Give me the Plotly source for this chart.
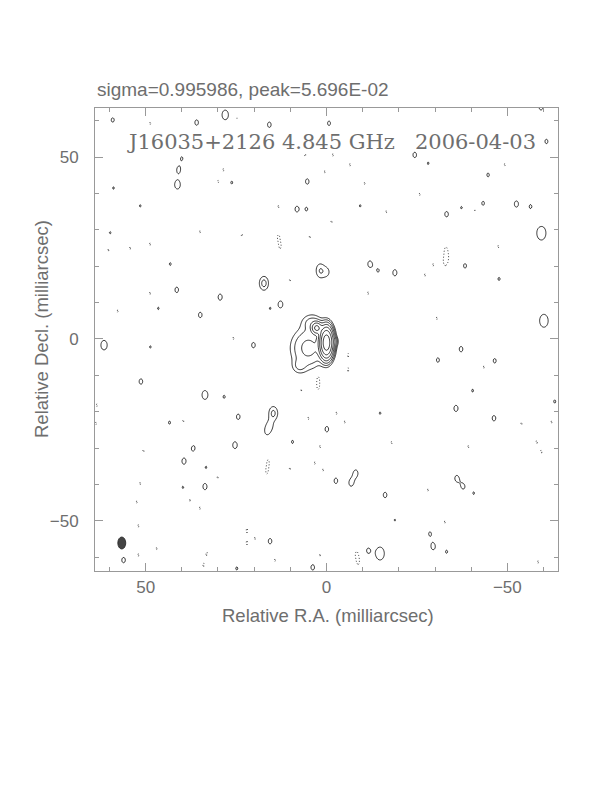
import numpy as np
import plotly.graph_objects as go

# ---------------- data (milliarcsec, flux in units of the lowest contour) -------------
title_top = "sigma=0.995986, peak=5.696E-02"
title_map = "J16035+2126 4.845 GHz\u00a0\u00a0\u00a02006-04-03"
x_label = "Relative R.A. (milliarcsec)"
y_label = "Relative Decl. (milliarcsec)"
tick_vals = [-50, 0, 50]

# contour levels: lowest contour x 2^k
contour_factors = [1, 2, 4, 8, 16, 32, 64]

# restoring beam (FWHM, mas)
beam_x, beam_y = 56.6, -56.1
beam_w, beam_h = 2.2, 3.3

# source components (Gaussian, beam convolved)
src_x = [0.0, 2.7, 5.0, 7.5, 4.0, -2.2]
src_y = [-1.0, 3.0, -2.5, -7.5, 4.5, -0.7]
src_amp = [100.0, 18.0, 5.0, 1.8, 2.5, 3.0]
src_sx = [0.95, 0.8, 2.8, 1.3, 1.8, 0.6]
src_sy = [2.2, 0.9, 3.2, 1.3, 1.5, 0.8]

# positive noise peaks / faint features
pos_x = [59.1, 35.9, 28.0, 15.8, 40.9, 41.2, 40.0, 58.9, 26.2, 51.5, 59.8, 43.2, 17.3, 41.4, 29.4,
         -0.7, 5.3, 8.2, 5.5, -24.4, -60.8, -33.2, -43.3, -44.7, -52.5, -56.4, -59.4, -12.0, -18.9,
         1.7, -0.1, 1.8, -38.3, -47.7, -28.1, -9.3, -37.3, -14.3, 51.3, 33.6, 28.3, 24.4, 14.7, 15.6,
         16.5, 43.4, 25.3, 36.9, 39.4, 9.4, 53.8, 33.6, 39.7, 33.3, 56.1, 15.6, 24.8, 3.8, 61.5,
         -40.4, -35.8, -46.3, -63.1, -14.8, -0.1, -2.6, -8.1, -6.8, -16.2, -36.0, -37.8, -40.7,
         -28.6, -29.5, -33.2, -11.5, -14.8, -18.9, 20.2, 12.7, 15.6, -59.3, 46.5, 34.9, 48.7,
         -37.2, -30.8, -60.1, -46.5]
pos_y = [60.2, 59.5, 61.6, 58.9, 46.5, 42.4, 49.7, 41.5, 43.0, 36.6, 29.2, 20.6, 15.3, 13.5, 11.5,
         59.3, 43.3, 35.7, 35.7, 50.6, 54.3, 34.3, 37.3, 45.1, 37.1, 36.4, 29.1, 20.6, 18.2,
         18.2, 18.4, 19.4, 20.1, 16.5, 48.3, 36.6, 36.1, 18.8, -11.7, -15.4, -15.9, -21.4, -20.4, -23.7,
         -25.5, -23.0, -29.2, -30.0, -33.6, -28.3, -36.3, -40.6, -40.8, -35.3, -60.8, -55.6, -63.1, -62.8, -1.7,
         -14.2, -19.1, -21.8, -17.2, -20.4, -24.8, -39.0, -36.9, -39.6, -42.9, -38.3, -40.6, -42.4,
         -53.5, -57.1, -58.5, -58.2, -59.0, -49.8, -1.7, 9.5, 8.4, 63.8, 8.4, 6.6, -2.2,
         -2.8, -5.8, 5.0, -6.0]
pos_amp = [1.1, 1.15, 1.3, 1.15, 1.12, 1.3, 1.03, 1.03, 1.04, 1.03, 1.03, 1.04, 2.5, 1.15, 1.2,
           1.1, 1.15, 1.15, 1.05, 1.15, 1.1, 1.15, 1.08, 1.08, 1.2, 1.08, 1.5, 1.2, 1.2,
           1.15, 1.15, 1.03, 1.1, 1.05, 1.03, 1.03, 1.03, 1.03, 1.15, 1.3, 1.05, 1.15, 2.3, 1.2,
           1.03, 1.05, 1.25, 1.2, 1.2, 1.05, 1.07, 1.2, 1.03, 1.03, 1.15, 1.15, 1.05, 1.15, 1.35,
           1.04, 1.2, 1.15, 1.05, 1.03, 1.15, 1.15, 1.2, 1.2, 1.15, 1.15, 1.1, 1.03,
           1.05, 1.2, 1.05, 1.08, 1.5, 1.02, 1.15, 1.25, 1.02, 1.2, 1.03, 1.15, 1.03,
           1.15, 1.1, 1.5, 1.1]
pos_size = [1.0, 1.0, 1.3, 1.0, 0.9, 1.15, 1.0, 1.0, 1.0, 1.0, 1.0, 1.0, 1.0, 1.0, 1.0,
            1.0, 1.0, 1.0, 1.0, 1.0, 1.0, 1.0, 1.0, 1.0, 1.0, 1.0, 1.5, 1.0, 1.0,
            1.0, 1.0, 1.0, 1.0, 1.0, 1.0, 1.0, 1.0, 1.0, 1.0, 1.2, 1.0, 1.0, 1.0, 1.0,
            1.0, 1.0, 1.0, 1.0, 1.0, 1.0, 1.0, 1.0, 1.0, 1.0, 1.0, 1.0, 1.0, 1.0, 1.2,
            1.0, 1.0, 1.0, 1.0, 1.0, 1.0, 1.0, 1.0, 1.0, 1.0, 1.0, 1.0, 1.0,
            1.0, 1.0, 1.0, 1.0, 1.4, 1.0, 1.0, 1.0, 1.0, 1.0, 1.0, 1.0, 1.0,
            1.0, 1.0, 1.4, 1.0]

# negative noise peaks
neg_x = [48.7, 24.8, 28.5, 29.9, 13.3, 13.3, 12.8, 34.9, 48.8, 54.3, 23.4, 60.3, 48.8,
         5.9, -1.8, 3.6, 0.4, -6.5, -10.6, -25.8, -16.6, -1.4, -41.0, -46.5, -49.3, -59.0, -47.5,
         -33.0, -33.3, -32.7, -29.5, 4.6, -11.5, -27.2,
         10.1, 25.7, -6.0, -6.0, 2.3, 2.3, 6.9,
         63.5, 39.6, 37.7, 50.6, 54.1, 51.5, 52.4, 37.7, 35.0, 30.1, 52.0, 46.9, 52.0, 33.1, 34.0,
         22.0, 22.0, 19.8, 14.2, 16.1, 16.5, 10.1, 5.0, 3.2,
         -2.8, -5.1, -18.0, 1.8, 0.9, -39.2, -58.1, -59.4, -28.1, -32.7, -8.3, -8.8, 1.8, -58.5,
         -53.9, -62.2, 57.7, 63.7, -30.5, -43.5]
neg_y = [59.3, 60.7, 46.5, 43.3, 36.4, 28.1, 25.4, 29.5, 26.1, 25.0, 28.6, 24.5, 12.6,
         50.6, 50.6, 46.0, 46.0, 47.9, 42.8, 39.8, 35.0, 32.3, 35.5, 45.7, 47.9, 34.6, 25.4,
         24.5, 22.3, 21.2, 20.4, 28.1, 12.6, 17.6,
         16.2, 0.2, -4.4, -8.5, -10.7, -13.2, -14.0,
         -18.2, -22.5, -26.9, -30.7, -33.8, -39.7, -44.8, -44.3, -46.5, -38.0, -51.4, -57.6, -59.4, -59.0, -62.2,
         -52.5, -56.2, -54.8, -60.8, -33.8, -36.5, -35.6, -21.8, -34.1,
         -20.4, -22.8, -28.5, -29.6, -36.0, -29.6, -28.3, -31.0, -41.5, -50.3, -59.1, -61.3, -59.4, -61.3,
         -23.2, -22.8, 7.7, -23.2, 5.7, -7.7]
neg_amp = [1.04] * len(neg_x)

# ---------------- build the brightness grid ----------------
BEAM_SX = beam_w / 2.3548
BEAM_SY = beam_h / 2.3548
xg = np.arange(-64.0, 64.001, 0.25)
yg = np.arange(-64.0, 64.001, 0.25)
X, Y = np.meshgrid(xg, yg)
Z = np.zeros_like(X)


def add_gauss(x0, y0, amp, sx, sy):
    ix = np.where(np.abs(xg - x0) < 6 * sx)[0]
    iy = np.where(np.abs(yg - y0) < 6 * sy)[0]
    if len(ix) == 0 or len(iy) == 0:
        return
    sl = (slice(iy[0], iy[-1] + 1), slice(ix[0], ix[-1] + 1))
    Z[sl] += amp * np.exp(-((X[sl] - x0) ** 2 / (2 * sx ** 2) + (Y[sl] - y0) ** 2 / (2 * sy ** 2)))


for a, b, c, d, e in zip(src_x, src_y, src_amp, src_sx, src_sy):
    add_gauss(a, b, c, d, e)
for a, b, c, s in zip(pos_x, pos_y, pos_amp, pos_size):
    add_gauss(a, b, c, BEAM_SX * s, BEAM_SY * s)
for a, b, c in zip(neg_x, neg_y, neg_amp):
    add_gauss(a, b, -c, BEAM_SX * 0.6, BEAM_SY)

floor = 2.0 ** -20
Zpos = np.log2(np.clip(Z, floor, None)).astype(np.float32)
Zneg = np.log2(np.clip(-Z, floor, None)).astype(np.float32)

fig = go.Figure()
fig.add_trace(go.Contour(
    x=xg, y=yg, z=Zpos, showscale=False, hoverinfo="skip",
    contours=dict(coloring="none", start=0, end=float(np.log2(contour_factors[-1])), size=1),
    line=dict(color="black", width=0.8),
))
fig.add_trace(go.Contour(
    x=xg, y=yg, z=Zneg, showscale=False, hoverinfo="skip",
    contours=dict(coloring="none", start=0, end=0.5, size=1),
    line=dict(color="#222", width=0.9, dash="1px,2px"),
))

# restoring beam
fig.add_shape(type="circle", xref="x", yref="y",
              x0=beam_x - beam_w / 2, x1=beam_x + beam_w / 2,
              y0=beam_y - beam_h / 2, y1=beam_y + beam_h / 2,
              fillcolor="#444", line=dict(color="#222", width=0.8))

FONT = "Liberation Sans"
GRAY = "#6e6e6e"
axis_common = dict(
    showgrid=False, zeroline=False, showline=True, linecolor="#999", linewidth=1,
    mirror="allticks", ticks="inside", ticklen=8, tickcolor="#999", tickwidth=1,
    tickmode="array", tickvals=tick_vals,
    tickfont=dict(family=FONT, size=17, color=GRAY),
    minor=dict(ticks="inside", ticklen=4, tickcolor="#999", dtick=10, tick0=0, showgrid=False),
)

# plot area (page pixels): x 95..558, y 108..571 ; page body has an 8px margin
fig.update_layout(
    width=612, height=792,
    margin=dict(l=87, r=62, t=100, b=229),
    paper_bgcolor="white", plot_bgcolor="white",
    showlegend=False,
    xaxis=dict(range=[64.0, -64.0], ticklabelstandoff=1, **axis_common),
    yaxis=dict(range=[-63.8, 63.5], ticklabelstandoff=12, **axis_common),
    annotations=[
        dict(text=title_top, xref="paper", yref="paper", x=0.0, y=(571 - 89) / 463,
             xanchor="left", yanchor="middle", showarrow=False,
             font=dict(family=FONT, size=19, color=GRAY)),
        dict(text=title_map, xref="paper", yref="paper", x=(331 - 95) / 463, y=(571 - 142) / 463,
             xanchor="center", yanchor="middle", showarrow=False,
             font=dict(family="DejaVu Serif", size=21, color=GRAY)),
        dict(text=x_label, xref="paper", yref="paper", x=(328 - 95) / 463, y=(571 - 615) / 463,
             xanchor="center", yanchor="middle", showarrow=False,
             font=dict(family=FONT, size=18.5, color=GRAY)),
        dict(text=y_label, xref="paper", yref="paper", x=(41 - 95) / 463, y=(571 - 329) / 463,
             xanchor="center", yanchor="middle", showarrow=False, textangle=-90,
             font=dict(family=FONT, size=18.5, color=GRAY)),
    ],
)

fig.write_html("out.html")
